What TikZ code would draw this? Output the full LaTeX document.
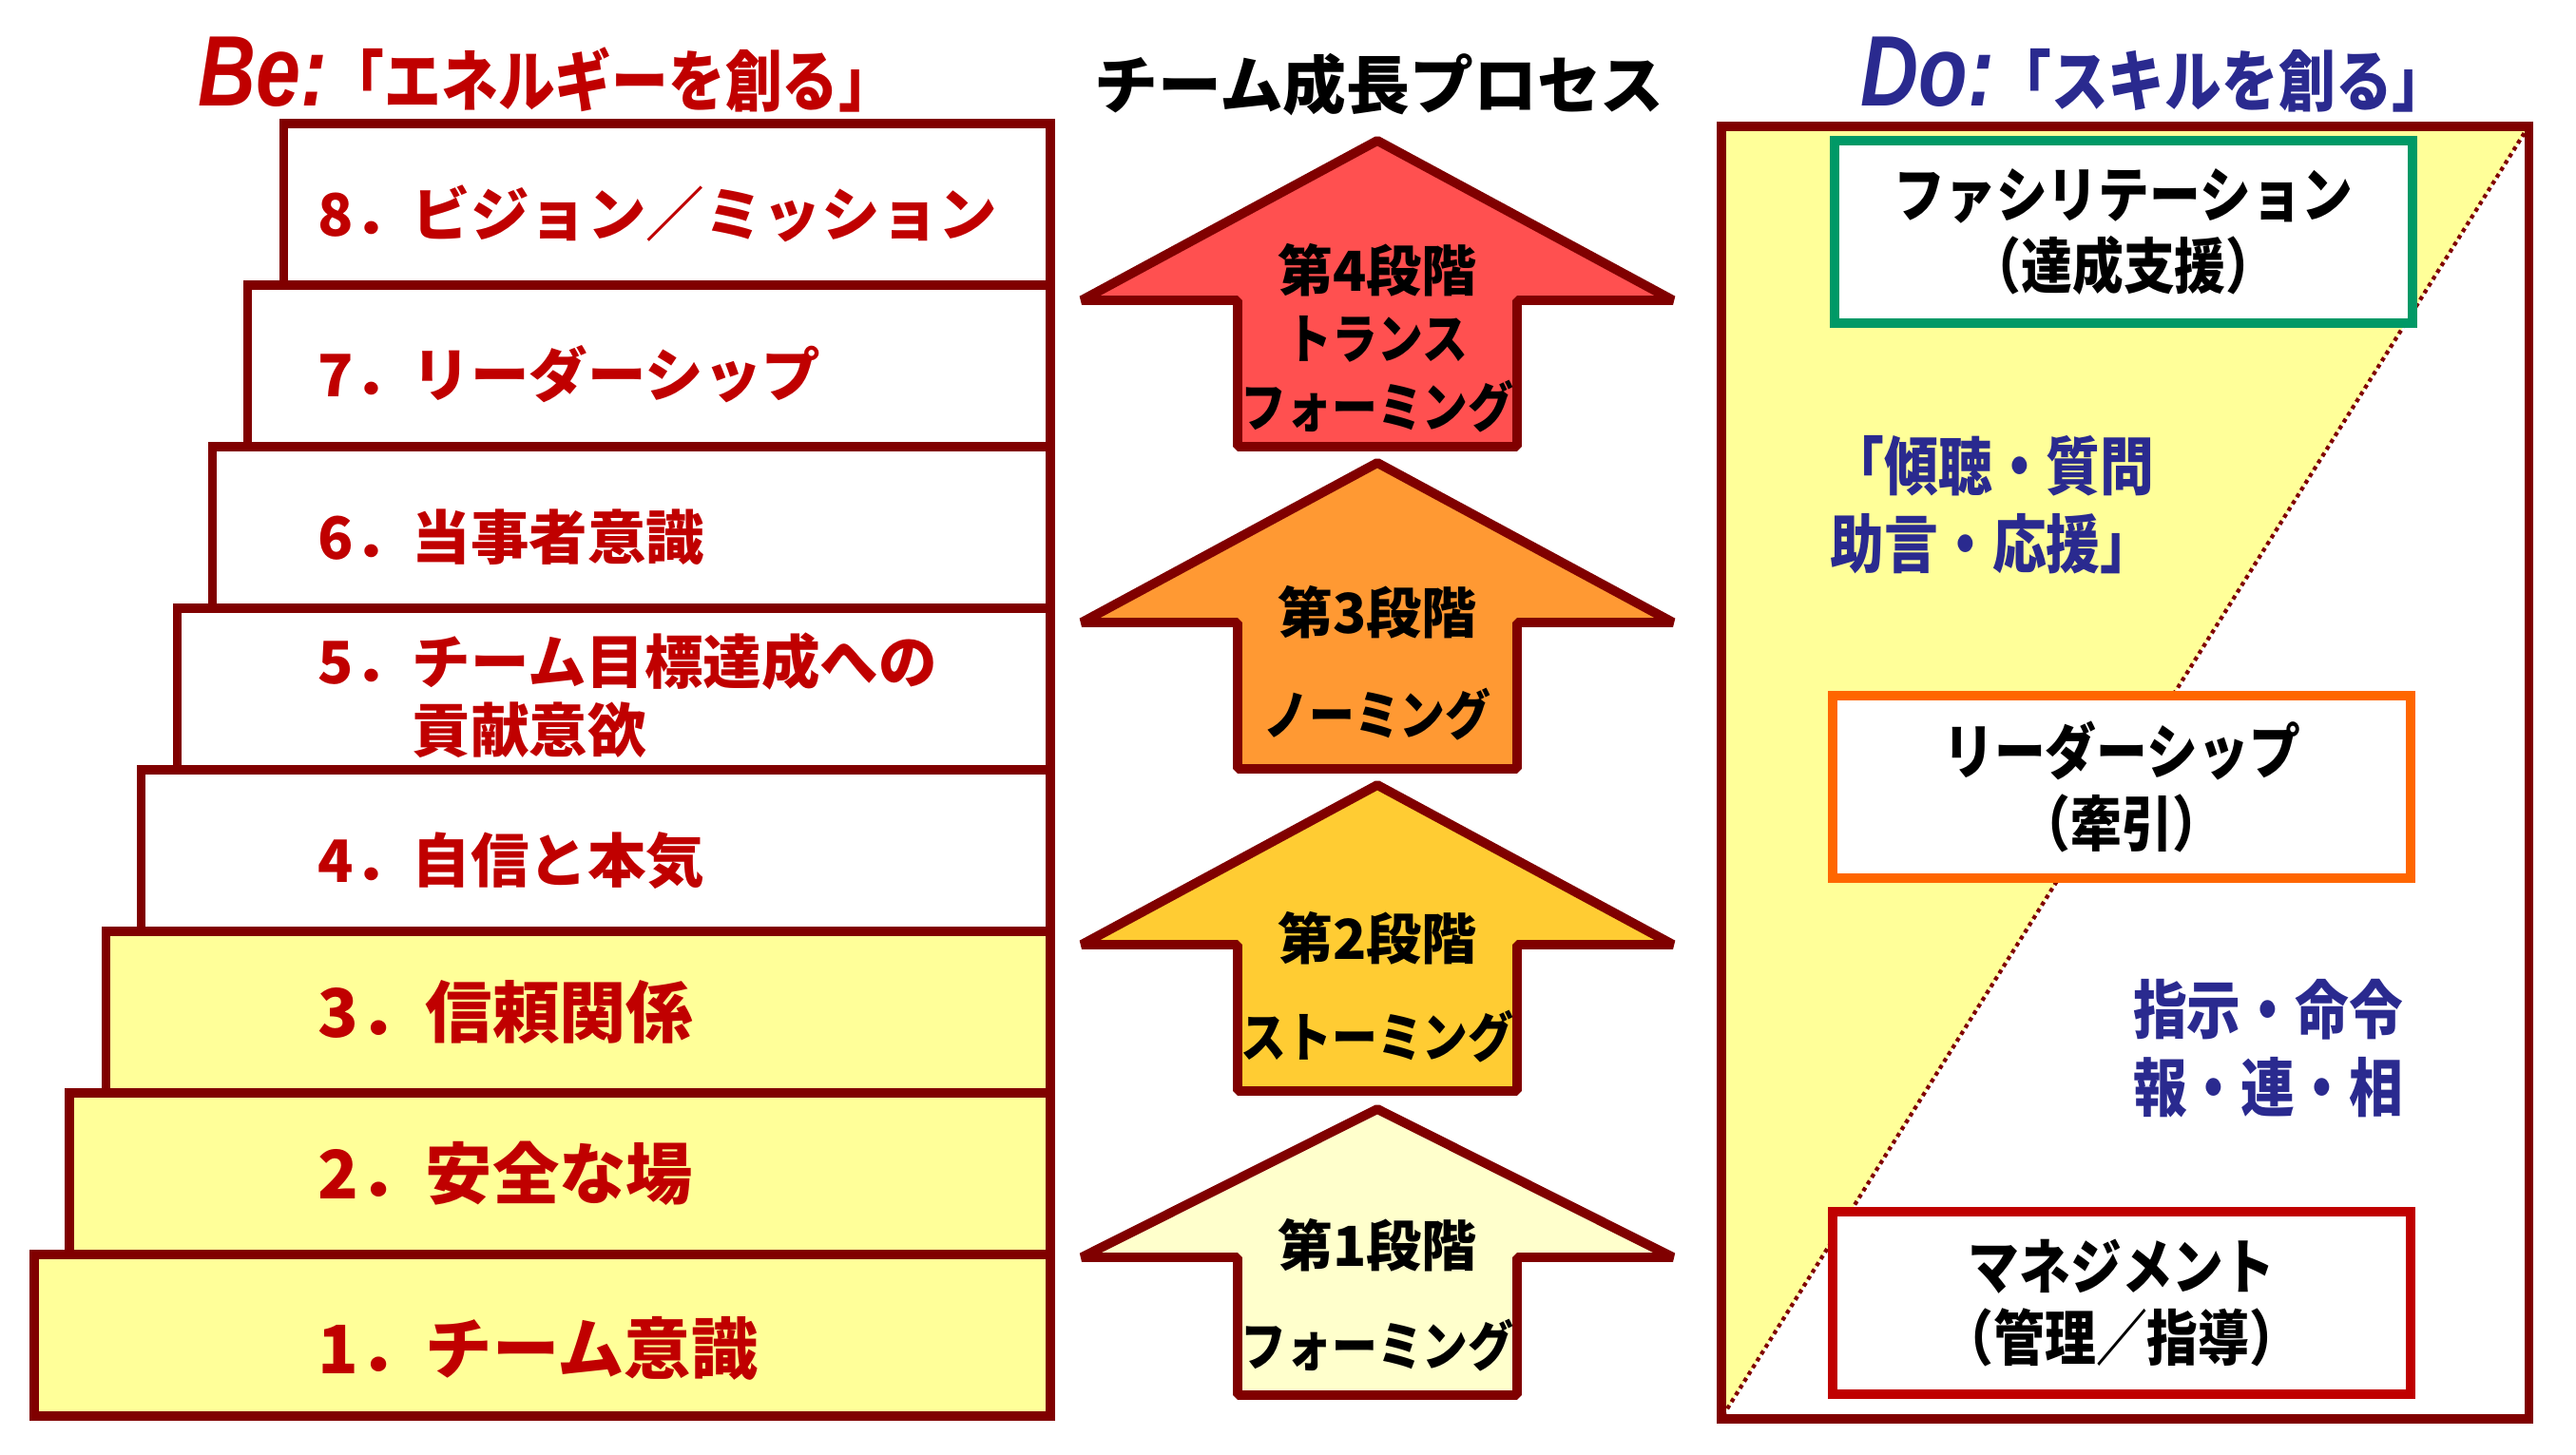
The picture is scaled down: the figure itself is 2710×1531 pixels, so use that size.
\documentclass[tikz,border=0pt]{standalone}
\usepackage{fontspec}
\newfontfamily\jp{Noto Sans CJK JP}
\newfontfamily\jpn{Noto Sans CJK JP}[FakeStretch=0.85]
\newfontfamily\befont{Liberation Sans}[FakeStretch=0.8]
\definecolor{lineRed}{HTML}{800000}
\definecolor{txtRed}{HTML}{C00000}
\definecolor{stepYellow}{HTML}{FFFF99}
\definecolor{stageA}{HTML}{FFFFCC}
\definecolor{stageB}{HTML}{FFCC33}
\definecolor{stageC}{HTML}{FF9933}
\definecolor{stageD}{HTML}{FF5050}
\definecolor{facGreen}{HTML}{009966}
\definecolor{leadOrange}{HTML}{FF6600}
\definecolor{skillBlue}{HTML}{2A2A8F}

\begin{document}
\begin{tikzpicture}[x=0.01cm, y=-0.01cm,
  stepbox/.style={draw=lineRed, line width=2.8pt, minimum height=1.7cm, anchor=north east, outer sep=0pt, inner sep=0pt},
  steptxt/.style={anchor=west, inner sep=0pt, align=left, text=txtRed, font=\jp\bfseries\fontsize{17.5}{20.5}\selectfont},
  steptxtL/.style={steptxt, font=\jp\bfseries\fontsize{20}{24}\selectfont},
  stage/.style={draw=lineRed, line width=2.8pt, line join=bevel},
  stagetxt/.style={inner sep=0pt, font=\jpn\bfseries\fontsize{16}{19}\selectfont},
  stagenum/.style={inner sep=0pt, font=\jp\bfseries\fontsize{16.5}{19}\selectfont},
  skillbox/.style={draw, line width=2.8pt, fill=white, minimum width=6.08cm, minimum height=1.92cm, align=center, font=\jpn\bfseries\fontsize{18}{21.6}\selectfont},
  skilltxt/.style={inner sep=0pt, text=skillBlue, font=\jpn\bfseries\fontsize{19}{23.3}\selectfont}]
\useasboundingbox (0,0) rectangle (2710,1531);

% titles
\node (be) [anchor=base west, inner sep=0pt, text=txtRed] at (208,112) {{\befont\bfseries\itshape\fontsize{30}{30}\selectfont Be:}{\jpn\bfseries\fontsize{20}{24}\selectfont 「エネルギーを創る」}};
\node (proc) [anchor=base, inner sep=0pt, font=\jp\bfseries\fontsize{19}{23}\selectfont] at (1451,115) {チーム成長プロセス};
\node (do) [anchor=base west, inner sep=0pt, text=skillBlue] at (1957,112) {{\befont\bfseries\itshape\fontsize{30}{30}\selectfont Do:}{\jpn\bfseries\fontsize{20}{24}\selectfont 「スキルを創る」}};

% Be: staircase
\node (s8) [stepbox, minimum width=8.06cm] at (1105,130) {};
\node (s7) [stepbox, minimum width=8.44cm] at (1105,300) {};
\node (s6) [stepbox, minimum width=8.81cm] at (1105,470) {};
\node (s5) [stepbox, minimum width=9.18cm] at (1105,640) {};
\node (s4) [stepbox, minimum width=9.56cm] at (1105,810) {};
\node (s3) [stepbox, minimum width=9.93cm, fill=stepYellow] at (1105,980) {};
\node (s2) [stepbox, minimum width=10.31cm, fill=stepYellow] at (1105,1150) {};
\node (s1) [stepbox, minimum width=10.68cm, fill=stepYellow] at (1105,1320) {};

\node (t8) [steptxt] at (334,225) {8．ビジョン／ミッション};
\node (t7) [steptxt] at (334,394) {7．リーダーシップ};
\node (t6) [steptxt] at (334,565) {6．当事者意識};
\node (t5) [steptxt] at (334,732) {5．チーム目標達成への\\\phantom{5．}貢献意欲};
\node (t4) [steptxt] at (334,906) {4．自信と本気};
\node (t3) [steptxtL] at (334,1065) {3．信頼関係};
\node (t2) [steptxtL] at (334,1235) {2．安全な場};
\node (t1) [steptxtL] at (334,1419) {1．チーム意識};

% growth stages
\draw [stage, fill=stageD] (1449,148) -- ++(311,168) -- ++(-164,0) -- ++(0,154) -- ++(-294,0) -- ++(0,-154) -- ++(-164,0) -- cycle;
\node (g4a) [stagenum] at (1449,284) {第4段階};
\node (g4b) [stagetxt] at (1449,357) {トランス};
\node (g4c) [stagetxt] at (1449,428) {フォーミング};

\draw [stage, fill=stageC] (1449,487) -- ++(311,168) -- ++(-164,0) -- ++(0,154) -- ++(-294,0) -- ++(0,-154) -- ++(-164,0) -- cycle;
\node (g3a) [stagenum] at (1449,644) {第3段階};
\node (g3b) [stagetxt] at (1449,752) {ノーミング};

\draw [stage, fill=stageB] (1449,826) -- ++(311,168) -- ++(-164,0) -- ++(0,154) -- ++(-294,0) -- ++(0,-154) -- ++(-164,0) -- cycle;
\node (g2a) [stagenum] at (1449,987) {第2段階};
\node (g2b) [stagetxt] at (1449,1091) {ストーミング};

\draw [stage, fill=stageA] (1449,1167) -- ++(311,156) -- ++(-164,0) -- ++(0,145) -- ++(-294,0) -- ++(0,-145) -- ++(-164,0) -- cycle;
\node (g1a) [stagenum] at (1449,1310) {第1段階};
\node (g1b) [stagetxt] at (1449,1416) {フォーミング};

% Do: skills panel
\coordinate (pnw) at (1811,133);
\coordinate (pne) at (2660,133);
\coordinate (psw) at (1811,1492);
\fill [stepYellow] (pnw) -- (pne) -- (psw) -- cycle;
\draw [lineRed, line width=1.2pt, dash pattern=on 1.2pt off 1.2pt] (pne) -- (psw);
\node (panel) [draw=lineRed, line width=2.8pt, outer sep=0pt, minimum width=8.49cm, minimum height=13.59cm, anchor=north west] at (pnw) {};

\node (fac) [skillbox, draw=facGreen] at (2234,244) {ファシリテーション\\（達成支援）};
\node (lead) [skillbox, draw=leadOrange] at (2232,828) {リーダーシップ\\（牽引）};
\node (mgmt) [skillbox, draw=txtRed] at (2232,1371) {マネジメント\\（管理／指導）};

\node (listen) [skilltxt, anchor=west, align=left] at (1925,531) {「傾聴・質問\\助言・応援」};
\node (order) [skilltxt, align=center] at (2386,1103) {指示・命令\\報・連・相};
\end{tikzpicture}
\end{document}
